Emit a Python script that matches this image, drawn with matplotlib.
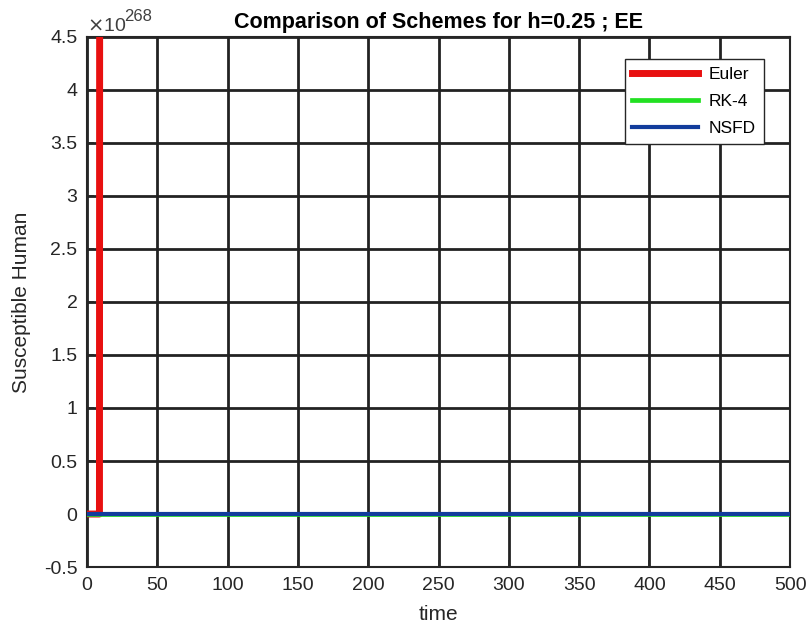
import numpy as np
import matplotlib
matplotlib.use("Agg")
import matplotlib.pyplot as plt
from matplotlib.ticker import FuncFormatter, MultipleLocator

plt.rcParams["font.family"] = ["Liberation Sans", "DejaVu Sans"]

SCALE = 1e268

# Euler blows up right after t ~ 9
euler_t = [0.0, 8.5, 8.75, 9.0]
euler_y = [0.0, 0.0, 0.0, 9.0e268]

# RK-4 and NSFD stay near zero on this scale
rk4_t = [0.0, 100.0, 200.0, 300.0, 400.0, 500.0]
rk4_y = [0.0, 0.0, 0.0, 0.0, 0.0, 0.0]
nsfd_t = [0.0, 100.0, 200.0, 300.0, 400.0, 500.0]
nsfd_y = [0.0, 0.0, 0.0, 0.0, 0.0, 0.0]

fig = plt.figure(figsize=(8.07, 6.35), dpi=100)
ax = fig.add_axes([0.108, 0.107, 0.871, 0.835])

ax.plot(euler_t, euler_y, color="#e81010", lw=5, label="Euler", zorder=3)
ax.plot(rk4_t, rk4_y, color="#22e022", lw=3.4, label="RK-4", zorder=3)
ax.plot(nsfd_t, nsfd_y, color="#123c9c", lw=3.0, label="NSFD", zorder=4)

ax.set_xlim(0, 500)
ax.set_ylim(-0.5 * SCALE, 4.5 * SCALE)
ax.xaxis.set_major_locator(MultipleLocator(50))
ax.yaxis.set_major_locator(MultipleLocator(0.5 * SCALE))
ax.yaxis.set_major_formatter(FuncFormatter(lambda v, p: f"{v / SCALE:g}".replace("\u2212", "-")))
ax.xaxis.set_major_formatter(FuncFormatter(lambda v, p: f"{v:g}"))

ax.grid(True, color="#222222", lw=2.0, alpha=1.0)
ax.set_axisbelow(True)
for s in ax.spines.values():
    s.set_color("#262626")
    s.set_linewidth(1.5)
ax.tick_params(direction="in", length=5, width=1.2, colors="#262626",
               labelsize=14, labelcolor="#262626", pad=7)

ax.text(0.0, 1.004, r"$\times$10", transform=ax.transAxes, fontsize=14,
        color="#404040", ha="left", va="bottom")
ax.text(0.052, 1.024, "268", transform=ax.transAxes, fontsize=12,
        color="#404040", ha="left", va="bottom")

ax.set_title("Comparison of Schemes for h=0.25 ; EE", fontsize=15.5,
             fontweight="bold", pad=6)
ax.set_xlabel("time", fontsize=15, color="#262626", labelpad=8)
ax.set_ylabel("Susceptible Human", fontsize=15, color="#262626", labelpad=9)

leg = ax.legend(loc="upper right", bbox_to_anchor=(0.975, 0.975), fontsize=12.5,
                fancybox=False, framealpha=1, edgecolor="#262626",
                handlelength=3.8, borderpad=0.45, labelspacing=0.7,
                handletextpad=0.6)
leg.get_frame().set_linewidth(1.0)

fig.savefig("out.png", dpi=100)
